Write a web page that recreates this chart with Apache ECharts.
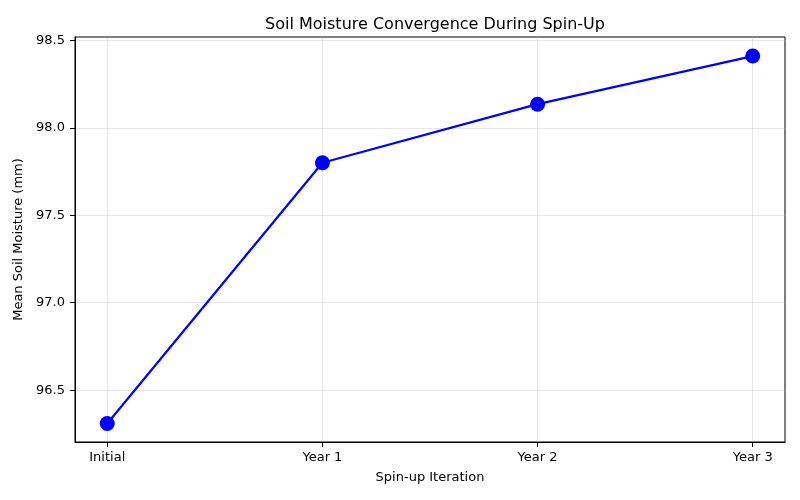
<!DOCTYPE html>
<html>
<head>
<meta charset="utf-8">
<script src="https://cdn.jsdelivr.net/npm/echarts@6/dist/echarts.min.js"></script>
<style>
  html, body { margin: 0; padding: 0; background: #fff; }
  #chart { width: 800px; height: 500px; }
</style>
</head>
<body>
<div id="chart"></div>
<script>
// spin-up iterations and mean soil moisture (mm)
const categories = ['Initial', 'Year 1', 'Year 2', 'Year 3']
const moisture = [96.31, 97.80, 98.135, 98.41]
const yTicks = [96.5, 97.0, 97.5, 98.0, 98.5]
const xTicks = [0, 1, 2, 3]

const font = 'DejaVu Sans'
const chart = echarts.init(document.getElementById('chart'))

const options = {
  animation: false,
  title: {
    text: 'Soil Moisture Convergence During Spin-Up',
    left: 430,
    top: 12,
    textAlign: 'center',
    textStyle: {
      fontFamily: font,
      fontSize: 16,
      fontWeight: 'normal',
      color: '#000',
    },
  },
  grid: {
    left: 75,
    right: 15,
    top: 37,
    bottom: 58,
    show: true,
    borderColor: '#000',
    borderWidth: 1,
  },
  xAxis: {
    type: 'value',
    min: -0.15,
    max: 3.15,
    name: 'Spin-up Iteration',
    nameLocation: 'middle',
    nameGap: 29,
    nameTextStyle: { fontFamily: font, fontSize: 13, color: '#000' },
    axisLine: { show: true, onZero: false, lineStyle: { color: '#000', width: 1 } },
    axisTick: {
      show: true,
      length: 5,
      customValues: xTicks,
      lineStyle: { color: '#000' },
    },
    axisLabel: {
      customValues: xTicks,
      margin: 9,
      fontFamily: font,
      fontSize: 13,
      color: '#000',
      formatter: v => categories[Math.round(v)],
    },
    splitLine: {
      show: true,
      lineStyle: { color: 'rgba(176,176,176,0.3)', width: 1 },
    },
  },
  yAxis: {
    type: 'value',
    min: 96.204,
    max: 98.519,
    name: 'Mean Soil Moisture (mm)',
    nameLocation: 'middle',
    nameGap: 48,
    nameTextStyle: { fontFamily: font, fontSize: 13, color: '#000' },
    axisLine: { show: true, onZero: false, lineStyle: { color: '#000', width: 1 } },
    axisTick: {
      show: true,
      length: 5,
      customValues: yTicks,
      lineStyle: { color: '#000' },
    },
    axisLabel: {
      customValues: yTicks,
      margin: 10,
      fontFamily: font,
      fontSize: 13,
      color: '#000',
      formatter: v => v.toFixed(1),
    },
    splitLine: {
      show: true,
      lineStyle: { color: 'rgba(176,176,176,0.3)', width: 1 },
    },
  },
  series: [
    {
      type: 'line',
      data: moisture.map((v, i) => [i, v]),
      symbol: 'circle',
      symbolSize: 15,
      lineStyle: { color: '#0000ff', width: 2.2 },
      itemStyle: { color: '#0000ff' },
    },
  ],
}
chart.setOption(options)
</script>
</body>
</html>
